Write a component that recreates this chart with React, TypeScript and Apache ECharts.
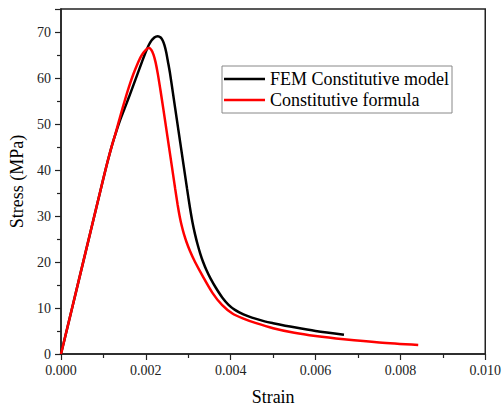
import React, { useEffect, useRef } from "react";
import * as echarts from "echarts";

const xTicks = { min: 0, max: 0.01, interval: 0.002 };
const yTicks = { min: 0, max: 75, interval: 10 };

const femStrain = [0, 0.0005, 0.001, 0.0011, 0.0012, 0.0013, 0.0014, 0.0015, 0.0016, 0.0017, 0.0018, 0.0019, 0.002, 0.0021, 0.0022, 0.00228, 0.00235, 0.0024, 0.00244, 0.00248, 0.00252, 0.00257, 0.00265, 0.00273, 0.00281, 0.00289, 0.00297, 0.00304, 0.0031, 0.00316, 0.00322, 0.00328, 0.00335, 0.00343, 0.00352, 0.00365, 0.0038, 0.00395, 0.0041, 0.0043, 0.0045, 0.0048, 0.005, 0.0055, 0.006, 0.00667];
const femStress = [0, 19.1, 38.2, 41.9, 45.3, 48.3, 51, 53.4, 55.8, 58.3, 60.8, 63.3, 65.7, 67.7, 68.8, 69.1, 68.8, 68.1, 67.1, 65.6, 63.6, 61, 56, 51, 46, 41, 36, 31.8, 28.6, 26, 23.8, 21.9, 20, 18.2, 16.5, 14.4, 12.3, 10.7, 9.6, 8.6, 7.9, 7.1, 6.7, 5.8, 5.0, 4.2];

const formulaStrain = [0, 0.0005, 0.001, 0.0011, 0.0012, 0.0013, 0.0014, 0.0015, 0.0016, 0.0017, 0.0018, 0.0019, 0.002, 0.00207, 0.00213, 0.00218, 0.00223, 0.00228, 0.00234, 0.00241, 0.00251, 0.00261, 0.00269, 0.00275, 0.0028, 0.00285, 0.0029, 0.00296, 0.00304, 0.00316, 0.00333, 0.00357, 0.0038, 0.00404, 0.0043, 0.0046, 0.005, 0.0055, 0.006, 0.00667, 0.0075, 0.00842];
const formulaStress = [0, 19.1, 38.2, 41.9, 45.3, 48.4, 51.8, 55, 58, 60.7, 63, 64.9, 66.1, 66.5, 66.1, 65.1, 63.4, 61, 57.6, 53.4, 47.2, 41, 36, 32.4, 29.8, 27.7, 26, 24.3, 22.4, 20, 17.1, 13.3, 10.6, 8.8, 7.7, 6.7, 5.6, 4.6, 3.9, 3.2, 2.5, 1.96];

const seriesNames = ["FEM Constitutive model", "Constitutive formula"];

const pair = (xs: number[], ys: number[]) => xs.map((x, i) => [x, ys[i]]);

export default function App() {
  const ref = useRef<HTMLDivElement>(null);
  useEffect(() => {
    if (!ref.current) return;
    const chart = echarts.init(ref.current, null, { renderer: "svg" });
    const font = "'Liberation Serif', 'Times New Roman', serif";
    const axisColor = "#222";
    chart.setOption({
      animation: false,
      backgroundColor: "#fff",
      textStyle: { fontFamily: font },
      grid: {
        left: 61,
        right: 16,
        top: 9,
        bottom: 58,
        show: true,
        borderColor: axisColor,
        borderWidth: 1.5,
        backgroundColor: "transparent",
      },
      legend: {
        orient: "vertical",
        left: 222,
        top: 66,
        icon: "rect",
        itemWidth: 41,
        itemHeight: 2.5,
        itemGap: 3,
        padding: [4, 3, 4, 2],
        borderColor: "#888",
        borderWidth: 1,
        textStyle: { fontFamily: font, fontSize: 18, color: "#000", lineHeight: 18 },
        data: seriesNames,
      },
      xAxis: {
        type: "value",
        min: xTicks.min,
        max: xTicks.max,
        interval: xTicks.interval,
        name: "Strain",
        nameLocation: "middle",
        nameGap: 34,
        nameTextStyle: { fontFamily: font, fontSize: 18, color: "#000" },
        axisLine: { show: true, onZero: false, lineStyle: { color: axisColor, width: 1.5 } },
        axisTick: { show: true, inside: false, length: 6, lineStyle: { color: axisColor, width: 1.2 } },
        minorTick: { show: true, splitNumber: 2, length: 4, lineStyle: { color: axisColor, width: 1.2 } },
        splitLine: { show: false },
        axisLabel: {
          fontFamily: font,
          fontSize: 14,
          color: "#222",
          margin: 9,
          formatter: (v: number) => v.toFixed(3),
        },
      },
      yAxis: {
        type: "value",
        min: yTicks.min,
        max: yTicks.max,
        interval: yTicks.interval,
        name: "Stress (MPa)",
        nameLocation: "middle",
        nameGap: 31,
        nameTextStyle: { fontFamily: font, fontSize: 18, color: "#000" },
        axisLine: { show: true, onZero: false, lineStyle: { color: axisColor, width: 1.5 } },
        axisTick: { show: true, inside: false, length: 6, lineStyle: { color: axisColor, width: 1.2 } },
        minorTick: { show: true, splitNumber: 2, length: 4, lineStyle: { color: axisColor, width: 1.2 } },
        splitLine: { show: false },
        axisLabel: {
          fontFamily: font,
          fontSize: 14,
          color: "#222",
          margin: 10,
          showMaxLabel: false,
          formatter: (v: number) => (v > 70 ? "" : String(v)),
        },
      },
      series: [
        {
          name: seriesNames[0],
          type: "line",
          data: pair(femStrain, femStress),
          symbol: "none",
          smooth: 0.3,
          lineStyle: { color: "#000", width: 2.5 },
          itemStyle: { color: "#000" },
        },
        {
          name: seriesNames[1],
          type: "line",
          data: pair(formulaStrain, formulaStress),
          symbol: "none",
          smooth: 0.3,
          lineStyle: { color: "#ff0000", width: 2.5 },
          itemStyle: { color: "#ff0000" },
        },
      ],
    });
    return () => chart.dispose();
  }, []);
  return (
    <div
      ref={ref}
      style={{ position: "fixed", left: 0, top: 0, width: 504, height: 412, background: "#fff" }}
    />
  );
}
